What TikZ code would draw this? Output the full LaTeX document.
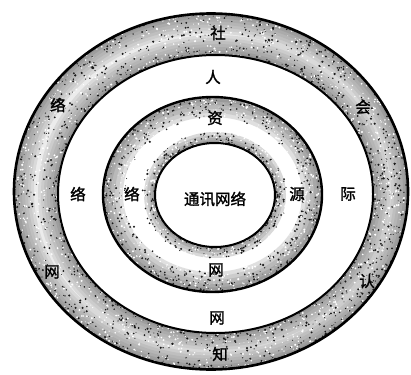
\documentclass[tikz,border=0pt]{standalone}
\usepackage{fontspec}
\newfontfamily\cjk[FakeBold=1.6]{Noto Sans CJK SC}
\begin{document}
\begin{tikzpicture}[x=1pt,y=-1pt,
  lab/.style={font=\cjk\fontsize{15.5}{15.5}\selectfont, inner sep=0pt},
  rim/.style={line width=#1, draw=black}]
\useasboundingbox (0,0) rectangle (411,374);
\fill[white] (0,0) rectangle (411,374);
\def\EA{(211,191.5) ellipse [x radius=197, y radius=178]}
\def\EB{(215.5,194) ellipse [x radius=157.5, y radius=139]}
\def\EC{(212.5,194.5) ellipse [x radius=109.5, y radius=97.5]}
\def\ED{(215,195) ellipse [x radius=60, y radius=52]}
% outer band
\begin{scope}
  \clip \EA;
  \fill[gray!15] \EA;
  \foreach \w/\g in {40/30,34/40,28/50,22/58,16/66,10/76,5/85}{
    \draw[line width=\w pt, gray!\g] \EA;
    \draw[line width=\w pt, gray!\g] \EB;
  }
\end{scope}
\fill[white] \EB;
% middle band
\begin{scope}
  \clip \EC;
  \fill[white] \EC;
  \foreach \w/\g in {40/25,32/40,24/55,16/68,9/80}{
    \draw[line width=\w pt, gray!\g] \EC;
  }
  \foreach \w/\g in {22/30,16/48,10/65,5/80}{
    \draw[line width=\w pt, gray!\g] \ED;
  }
\end{scope}
\fill[white] \ED;
% stipple texture
\pgfmathsetseed{11}
\foreach \i in {1,...,2400}{
  \pgfmathsetmacro\ang{360*rnd}
  \pgfmathsetmacro\u{rnd<0.5 ? 0.5*pow(rnd,1.3) : 1-0.5*pow(rnd,1.3)}
  \pgfmathsetmacro\px{211*(1-\u)+215.5*\u + (197*(1-\u)+157.5*\u)*cos(\ang)}
  \pgfmathsetmacro\py{191.5*(1-\u)+194*\u + (178*(1-\u)+139*\u)*sin(\ang)}
  \pgfmathtruncatemacro\c{rnd<0.5 ? 90 : 0}
  \pgfmathsetmacro\r{0.4+0.8*rnd}
  \fill[black!\c] (\px,\py) circle[radius=\r pt];
}
\foreach \i in {1,...,1400}{
  \pgfmathsetmacro\ang{360*rnd}
  \pgfmathsetmacro\u{rnd<0.65 ? 0.45*pow(rnd,1.3) : 1-0.25*pow(rnd,1.3)}
  \pgfmathsetmacro\px{212.5*(1-\u)+215*\u + (109.5*(1-\u)+60*\u)*cos(\ang)}
  \pgfmathsetmacro\py{194.5*(1-\u)+195*\u + (97.5*(1-\u)+52*\u)*sin(\ang)}
  \pgfmathtruncatemacro\c{rnd<0.5 ? 90 : 0}
  \pgfmathsetmacro\r{0.4+0.8*rnd}
  \fill[black!\c] (\px,\py) circle[radius=\r pt];
}
% black rims
\draw[rim=2.6pt] \EA;
\draw[rim=2pt] \EB;
\draw[rim=2.4pt] \EC;
\draw[rim=2pt] \ED;
% labels
\node[lab] (she) at (218,33) {社};
\node[lab] (ren) at (213,77) {人};
\node[lab] (hui) at (363,107) {会};
\node[lab] (luoA) at (58,105) {络};
\node[lab] (zi) at (215,118) {资};
\node[lab] (luoB) at (78,194) {络};
\node[lab] (luoC) at (132,194) {络};
\node[lab] (center) at (215,199) {通讯网络};
\node[lab] (yuan) at (297,194) {源};
\node[lab] (ji) at (348,194) {际};
\node[lab] (wangA) at (52,272) {网};
\node[lab] (wangB) at (216,270) {网};
\node[lab] (ren2) at (367,281) {认};
\node[lab] (wangC) at (217,318) {网};
\node[lab] (zhi) at (220,354) {知};
\end{tikzpicture}
\end{document}
